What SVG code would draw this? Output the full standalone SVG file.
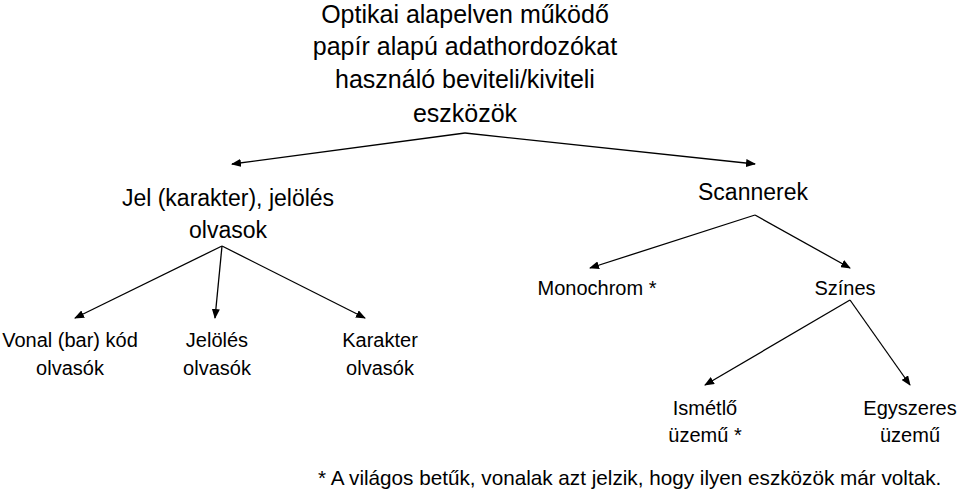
<svg xmlns="http://www.w3.org/2000/svg" width="960" height="494" viewBox="0 0 960 494">
<defs><marker id="a" markerWidth="10" markerHeight="8" refX="9" refY="4" orient="auto" markerUnits="userSpaceOnUse"><path d="M0,0 L10,4 L0,8 z" fill="#000"/></marker></defs>
<style>text{font-family:"Liberation Sans",Arial,sans-serif;font-size:20px;text-anchor:middle;fill:#000}.t{font-size:25px}.m{font-size:23px}line{stroke:#000;stroke-width:1.3;marker-end:url(#a)}</style>
<rect width="960" height="494" fill="#fff"/>
<g id="title"><text class="t" x="465" y="23">Optikai alapelven működő</text><text class="t" x="465" y="55">papír alapú adathordozókat</text><text class="t" x="465" y="88">használó beviteli/kiviteli</text><text class="t" x="465" y="122">eszközök</text></g>
<g id="jel"><text class="m" x="228" y="206">Jel (karakter), jelölés</text><text class="m" x="228" y="238">olvasok</text></g>
<g id="scan"><text class="m" x="753" y="200">Scannerek</text></g>
<g id="mono"><text x="597" y="295">Monochrom *</text></g>
<g id="szines"><text x="845" y="295">Színes</text></g>
<g id="vonal"><text x="70" y="347">Vonal (bar) kód</text><text x="70" y="375">olvasók</text></g>
<g id="jelol"><text x="217" y="347">Jelölés</text><text x="217" y="375">olvasók</text></g>
<g id="kar"><text x="380" y="347">Karakter</text><text x="380" y="375">olvasók</text></g>
<g id="ism"><text x="705" y="415">Ismétlő</text><text x="705" y="442">üzemű *</text></g>
<g id="egy"><text x="910" y="415">Egyszeres</text><text x="910" y="442">üzemű</text></g>
<g id="note"><text x="318" y="485" style="text-anchor:start;font-size:20.7px">* A világos betűk, vonalak azt jelzik, hogy ilyen eszközök már voltak.</text></g>
<g id="connectors">
<line x1="465" y1="133" x2="232" y2="164"/><line x1="465" y1="133" x2="755" y2="164"/>
<line x1="222" y1="246" x2="75" y2="318"/><line x1="222" y1="246" x2="215" y2="318"/><line x1="222" y1="246" x2="365" y2="318"/>
<line x1="755" y1="215" x2="590" y2="268"/><line x1="755" y1="215" x2="850" y2="268"/>
<line x1="850" y1="300" x2="705" y2="385"/><line x1="850" y1="300" x2="910" y2="385"/>
</g>
</svg>
